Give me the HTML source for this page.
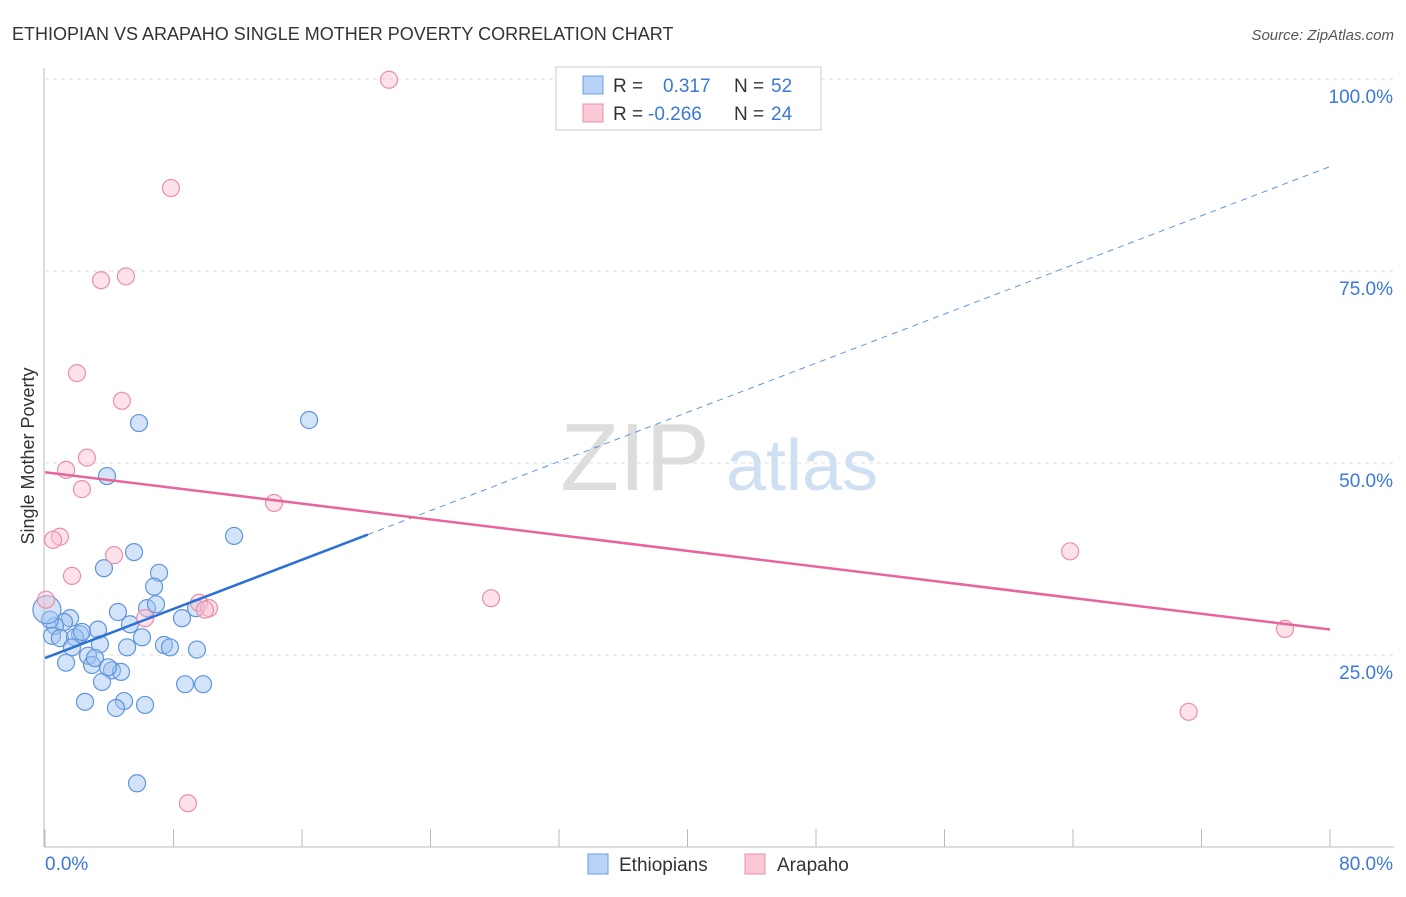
<!DOCTYPE html>
<html><head><meta charset="utf-8">
<style>
body{margin:0;background:#fff;font-family:"Liberation Sans",sans-serif;}
svg text{font-family:"Liberation Sans",sans-serif;}
</style></head>
<body>
<svg id="chart" width="1406" height="892" xmlns="http://www.w3.org/2000/svg">
<text x="12" y="40" font-size="18" fill="#333">ETHIOPIAN VS ARAPAHO SINGLE MOTHER POVERTY CORRELATION CHART</text>
<text x="1394" y="40" font-size="15" fill="#555" font-style="italic" text-anchor="end">Source: ZipAtlas.com</text>
<g>
<text x="635" y="490" font-size="96" fill="#ddd" font-family="Liberation Serif" text-anchor="middle">ZIP</text>
<text x="802" y="490" font-size="72" fill="#cfe0f3" text-anchor="middle">atlas</text>
</g>
<g id="grid"></g>
<g id="axes"></g>
<g id="marks"></g>
<text transform="translate(34,456) rotate(-90)" font-size="18" fill="#333" text-anchor="middle">Single Mother Poverty</text>
<g>
<rect x="556" y="67" width="265" height="63" fill="#fff" stroke="#ccc"/>
<rect x="583" y="76" width="20" height="18" fill="#b8d3f5" stroke="#6d9ee0"/>
<text x="613" y="92" font-size="19" fill="#333">R =</text>
<text x="663" y="92" font-size="19" fill="#3b78d8">0.317</text>
<text x="734" y="92" font-size="19" fill="#333">N =</text>
<text x="771" y="92" font-size="19" fill="#3b78d8">52</text>
<rect x="583" y="104" width="20" height="18" fill="#fbc8d6" stroke="#e891ab"/>
<text x="613" y="120" font-size="19" fill="#333">R =</text>
<text x="648" y="120" font-size="19" fill="#3b78d8">-0.266</text>
<text x="734" y="120" font-size="19" fill="#333">N =</text>
<text x="771" y="120" font-size="19" fill="#3b78d8">24</text>
</g>
<g>
<rect x="588" y="854" width="20" height="20" fill="#b8d3f5" stroke="#6d9ee0"/>
<text x="619" y="871" font-size="19" fill="#333">Ethiopians</text>
<rect x="745" y="854" width="20" height="20" fill="#fbc8d6" stroke="#e891ab"/>
<text x="777" y="871" font-size="19" fill="#333">Arapaho</text>
</g>
</svg>
<script>
const blueX=[5.85,16.44,3.86,11.77,5.54,3.67,7.10,6.79,4.54,6.35,6.91,5.29,8.53,9.40,6.04,7.41,7.78,9.46,5.11,3.42,3.30,1.56,1.18,0.62,0.44,0.93,2.18,1.87,1.68,2.68,2.93,1.31,3.11,4.17,4.73,3.55,8.72,9.84,4.92,2.49,4.42,6.23,5.73,0.31,2.30,3.92,0.12];
const blueY=[55.2,55.6,48.3,40.5,38.4,36.3,35.7,33.9,30.6,31.1,31.6,29.0,29.8,31.1,27.3,26.3,26.0,25.7,26.0,26.4,28.3,29.8,29.3,28.8,27.5,27.2,27.7,27.3,26.0,24.9,23.7,24.0,24.6,23.0,22.8,21.5,21.2,21.2,19.0,18.9,18.1,18.5,8.3,29.6,28.0,23.4,30.9];
const pinkX=[21.42,7.84,5.04,3.49,1.99,4.79,2.61,1.31,2.30,14.26,0.93,0.50,4.30,1.68,27.77,9.59,10.21,9.96,6.23,0.06,63.82,77.2,71.2,8.90];
const pinkY=[99.9,85.8,74.3,73.8,61.7,58.1,50.7,49.1,46.6,44.8,40.4,40.0,38.0,35.3,32.4,31.8,31.1,30.9,29.8,32.2,38.5,28.4,17.6,5.7];
const blueTrend=[24.6,0.800]; // intercept, slope
const blueSolidEnd=20.1;
const pinkTrend=[48.8,-0.256];
const yTicks=[25,50,75,100];
const yTickLabels=["25.0%","50.0%","75.0%","100.0%"];
const xTicks=[0,8,16,24,32,40,48,56,64,72,80];

const NS="http://www.w3.org/2000/svg";
const sx=v=>45+v/80*1285;
const sy=v=>847-v/100*768;
function mk(tag,attrs,parent){const e=document.createElementNS(NS,tag);for(const k in attrs)e.setAttribute(k,attrs[k]);document.getElementById(parent).appendChild(e);return e;}

yTicks.forEach((t,i)=>{
  const g=mk('line',{x1:45,x2:1394,y1:sy(t),y2:sy(t),stroke:'#ddd','stroke-dasharray':'4,4'},'grid');
  
  
  const l=mk('text',{x:1393,y:sy(t)+24,'font-size':19,fill:'#3b78d8','text-anchor':'end'},'axes');
  l.textContent=yTickLabels[i];
  
  
});
const ax=mk('line',{x1:44,x2:44,y1:68,y2:847,stroke:'#bbb'},'axes');


const bx=mk('line',{x1:44,x2:1394,y1:847,y2:847,stroke:'#bbb'},'axes');


xTicks.forEach(t=>{
  const k=mk('line',{x1:sx(t),x2:sx(t),y1:829,y2:847,stroke:'#bbb'},'axes');
  
  
});
const xl0=mk('text',{x:45,y:870,'font-size':19,fill:'#3b78d8'},'axes');xl0.textContent="0.0%";


const xl1=mk('text',{x:1393,y:870,'font-size':19,fill:'#3b78d8','text-anchor':'end'},'axes');xl1.textContent="80.0%";



blueX.forEach((x,i)=>{
  const c=mk('circle',{cx:sx(x),cy:sy(blueY[i]),r:(i==blueX.length-1?14:8.5),fill:'rgba(160,196,240,0.45)',stroke:'#5f95de','stroke-width':1.2},'marks');
  
  
});
pinkX.forEach((x,i)=>{
  const c=mk('circle',{cx:sx(x),cy:sy(pinkY[i]),r:8.5,fill:'rgba(250,190,208,0.45)',stroke:'#ea8fab','stroke-width':1.2},'marks');
  
  
});
const bt=v=>blueTrend[0]+blueTrend[1]*v;
const bs=mk('line',{x1:sx(0),y1:sy(bt(0)),x2:sx(blueSolidEnd),y2:sy(bt(blueSolidEnd)),stroke:'#2c6fd6','stroke-width':2.5},'marks');


const bd=mk('line',{x1:sx(blueSolidEnd),y1:sy(bt(blueSolidEnd)),x2:sx(80),y2:sy(bt(80)),stroke:'#5f95de','stroke-width':1,'stroke-dasharray':'6,5'},'marks');


const pt=v=>pinkTrend[0]+pinkTrend[1]*v;
const pl=mk('line',{x1:sx(0),y1:sy(pt(0)),x2:sx(80),y2:sy(pt(80)),stroke:'#e8649a','stroke-width':2.5},'marks');


</script>
</body></html>
